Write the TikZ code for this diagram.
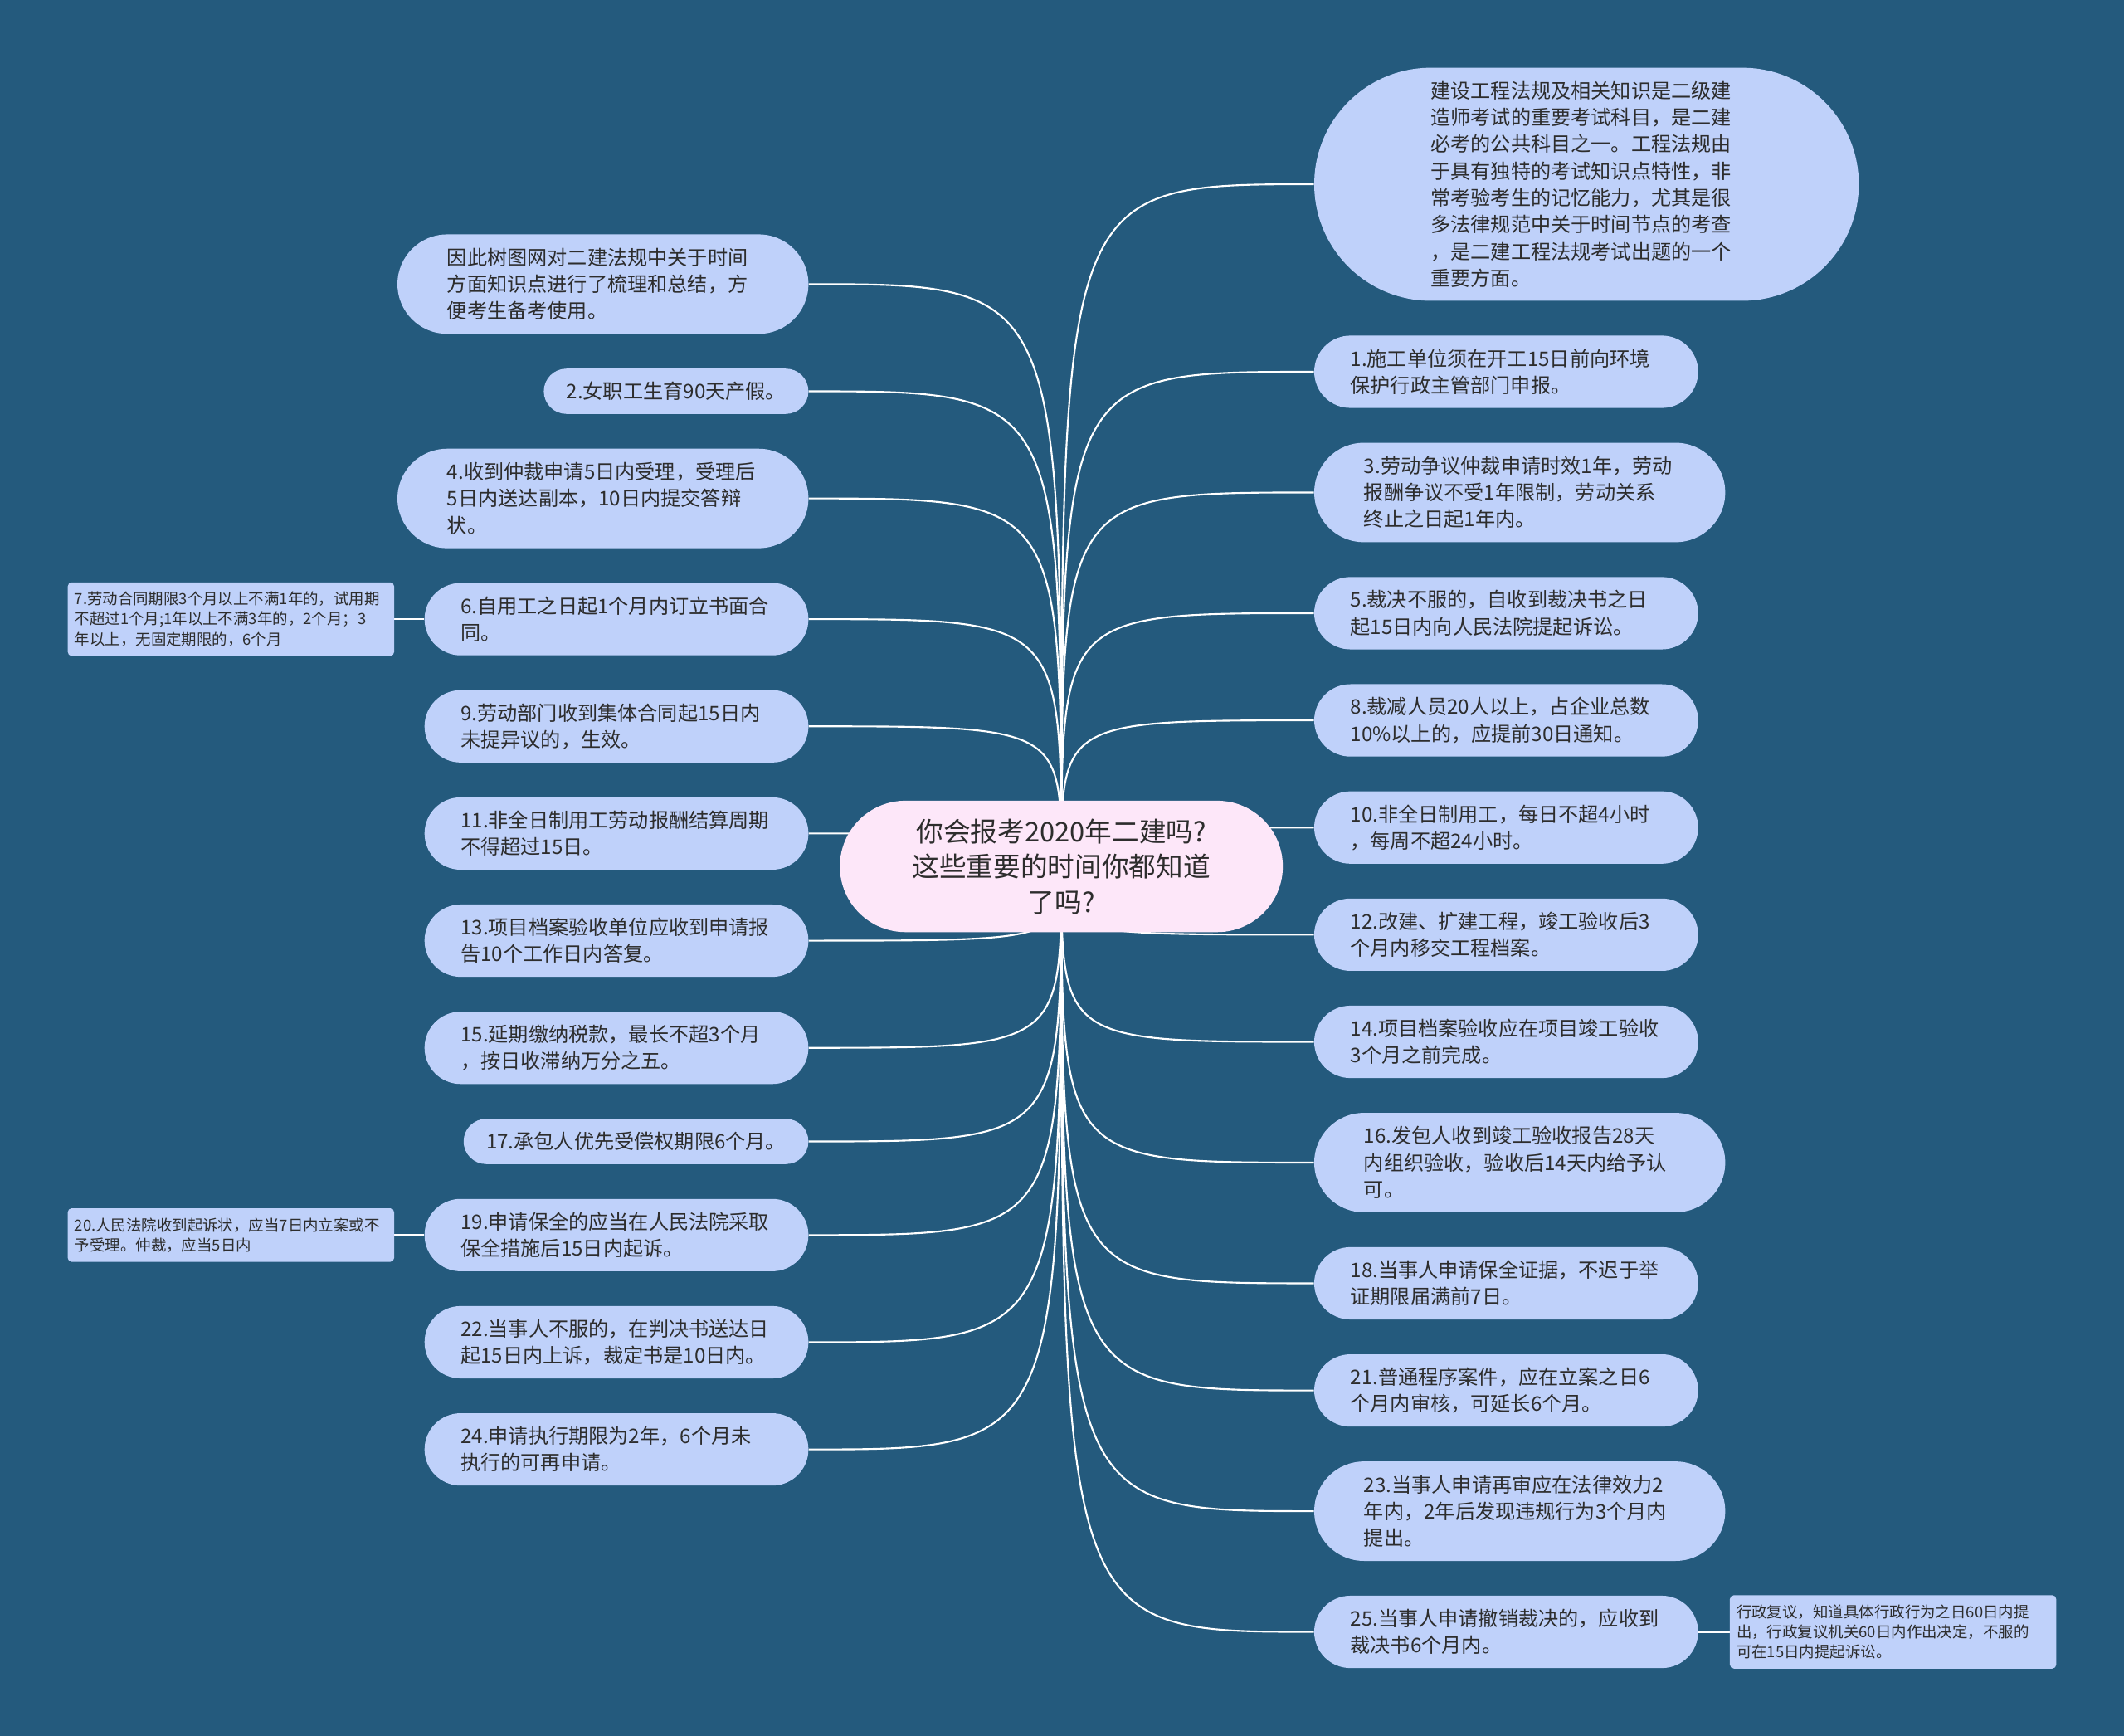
\documentclass[tikz,border=0pt]{standalone}
\usepackage{fontspec}
\usepackage{tikz}
\usetikzlibrary{positioning}
\newfontfamily\cjk{Noto Sans CJK SC}
\definecolor{bg}{RGB}{36,90,125}
\definecolor{pill}{RGB}{191,209,250}
\definecolor{rootfill}{RGB}{253,231,249}
\definecolor{ink}{RGB}{45,45,45}
\pgfdeclarelayer{back}
\pgfsetlayers{back,main}

\begin{document}
\begin{tikzpicture}[
  node distance=25.3pt,
  root/.style      = {rectangle, fill=rootfill, text=ink, rounded corners=48.5pt,
                      inner xsep=48.5pt, inner ysep=0pt, minimum height=97pt,
                      text width=230pt, align=center, font=\cjk\fontsize{20pt}{26pt}\selectfont},
  topic/.style     = {rectangle, fill=pill, text=ink, rounded corners=#1,
                      inner xsep=#1, inner ysep=0pt, minimum height=2*#1,
                      align=left, font=\cjk\fontsize{14.8pt}{19.8pt}\selectfont},
  oneline/.style   = {topic=16.7pt},
  twoline/.style   = {topic=26.7pt, text width=230pt},
  threeline/.style = {topic=36.7pt, text width=230pt},
  leaf/.style      = {rectangle, fill=pill, text=ink, rounded corners=3pt,
                      inner xsep=5pt, inner ysep=7pt, text width=231pt, align=left,
                      font=\cjk\fontsize{11.3pt}{14.8pt}\selectfont},
  con/.style       = {white, line width=1.3pt}
]
\begin{pgfonlayer}{back}
\fill[bg] (0,0) rectangle (1568pt,-1281.3pt);
\end{pgfonlayer}

\node[root] (root) at (783.5pt,-639.5pt) {你会报考2020年二建吗?\\这些重要的时间你都知道\\了吗?};

% right side
\node[topic=86pt, text width=230pt, anchor=west] (intro) at (970pt,-136pt) {建设工程法规及相关知识是二级建\\造师考试的重要考试科目，是二建\\必考的公共科目之一。工程法规由\\于具有独特的考试知识点特性，非\\常考验考生的记忆能力，尤其是很\\多法律规范中关于时间节点的考查\\，是二建工程法规考试出题的一个\\重要方面。};
\node[twoline,   below=of intro.south west, anchor=north west] (t1)  {1.施工单位须在开工15日前向环境\\保护行政主管部门申报。};
\node[threeline, below=of t1.south west,    anchor=north west] (t3)  {3.劳动争议仲裁申请时效1年，劳动\\报酬争议不受1年限制，劳动关系\\终止之日起1年内。};
\node[twoline,   below=of t3.south west,    anchor=north west] (t5)  {5.裁决不服的，自收到裁决书之日\\起15日内向人民法院提起诉讼。};
\node[twoline,   below=of t5.south west,    anchor=north west] (t8)  {8.裁减人员20人以上，占企业总数\\10\%以上的，应提前30日通知。};
\node[twoline,   below=of t8.south west,    anchor=north west] (t10) {10.非全日制用工，每日不超4小时\\，每周不超24小时。};
\node[twoline,   below=of t10.south west,   anchor=north west] (t12) {12.改建、扩建工程，竣工验收后3\\个月内移交工程档案。};
\node[twoline,   below=of t12.south west,   anchor=north west] (t14) {14.项目档案验收应在项目竣工验收\\3个月之前完成。};
\node[threeline, below=of t14.south west,   anchor=north west] (t16) {16.发包人收到竣工验收报告28天\\内组织验收，验收后14天内给予认\\可。};
\node[twoline,   below=of t16.south west,   anchor=north west] (t18) {18.当事人申请保全证据，不迟于举\\证期限届满前7日。};
\node[twoline,   below=of t18.south west,   anchor=north west] (t21) {21.普通程序案件，应在立案之日6\\个月内审核，可延长6个月。};
\node[threeline, below=of t21.south west,   anchor=north west] (t23) {23.当事人申请再审应在法律效力2\\年内，2年后发现违规行为3个月内\\提出。};
\node[twoline,   below=of t23.south west,   anchor=north west] (t25) {25.当事人申请撤销裁决的，应收到\\裁决书6个月内。};
\node[leaf, right=23pt of t25] (appeal) {行政复议，知道具体行政行为之日60日内提\\出，行政复议机关60日内作出决定，不服的\\可在15日内提起诉讼。};

% left side
\node[threeline, anchor=east] (note) at (597pt,-209.7pt) {因此树图网对二建法规中关于时间\\方面知识点进行了梳理和总结，方\\便考生备考使用。};
\node[oneline,   below=of note.south east, anchor=north east] (t2)  {2.女职工生育90天产假。};
\node[threeline, below=of t2.south east,   anchor=north east] (t4)  {4.收到仲裁申请5日内受理，受理后\\5日内送达副本，10日内提交答辩\\状。};
\node[twoline,   below=of t4.south east,   anchor=north east] (t6)  {6.自用工之日起1个月内订立书面合\\同。};
\node[twoline,   below=of t6.south east,   anchor=north east] (t9)  {9.劳动部门收到集体合同起15日内\\未提异议的，生效。};
\node[twoline,   below=of t9.south east,   anchor=north east] (t11) {11.非全日制用工劳动报酬结算周期\\不得超过15日。};
\node[twoline,   below=of t11.south east,  anchor=north east] (t13) {13.项目档案验收单位应收到申请报\\告10个工作日内答复。};
\node[twoline,   below=of t13.south east,  anchor=north east] (t15) {15.延期缴纳税款，最长不超3个月\\，按日收滞纳万分之五。};
\node[oneline,   below=of t15.south east,  anchor=north east] (t17) {17.承包人优先受偿权期限6个月。};
\node[twoline,   below=of t17.south east,  anchor=north east] (t19) {19.申请保全的应当在人民法院采取\\保全措施后15日内起诉。};
\node[twoline,   below=of t19.south east,  anchor=north east] (t22) {22.当事人不服的，在判决书送达日\\起15日内上诉，裁定书是10日内。};
\node[twoline,   below=of t22.south east,  anchor=north east] (t24) {24.申请执行期限为2年，6个月未\\执行的可再申请。};
\node[leaf, left=22pt of t6]  (t7)  {7.劳动合同期限3个月以上不满1年的，试用期\\不超过1个月;1年以上不满3年的，2个月；3\\年以上，无固定期限的，6个月};
\node[leaf, left=22pt of t19] (t20) {20.人民法院收到起诉状，应当7日内立案或不\\予受理。仲裁，应当5日内};

\begin{pgfonlayer}{back}
\draw[con](root.center) .. controls (root.center |- intro.west) .. (intro.west);
\draw[con](root.center) .. controls (root.center |- t1.west) .. (t1.west);
\draw[con](root.center) .. controls (root.center |- t3.west) .. (t3.west);
\draw[con](root.center) .. controls (root.center |- t5.west) .. (t5.west);
\draw[con](root.center) .. controls (root.center |- t8.west) .. (t8.west);
\draw[con](root.center) .. controls (root.center |- t10.west) .. (t10.west);
\draw[con](root.center) .. controls (root.center |- t12.west) .. (t12.west);
\draw[con](root.center) .. controls (root.center |- t14.west) .. (t14.west);
\draw[con](root.center) .. controls (root.center |- t16.west) .. (t16.west);
\draw[con](root.center) .. controls (root.center |- t18.west) .. (t18.west);
\draw[con](root.center) .. controls (root.center |- t21.west) .. (t21.west);
\draw[con](root.center) .. controls (root.center |- t23.west) .. (t23.west);
\draw[con](root.center) .. controls (root.center |- t25.west) .. (t25.west);
\draw[con](root.center) .. controls (root.center |- note.east) .. (note.east);
\draw[con](root.center) .. controls (root.center |- t2.east) .. (t2.east);
\draw[con](root.center) .. controls (root.center |- t4.east) .. (t4.east);
\draw[con](root.center) .. controls (root.center |- t6.east) .. (t6.east);
\draw[con](root.center) .. controls (root.center |- t9.east) .. (t9.east);
\draw[con](root.center) .. controls (root.center |- t11.east) .. (t11.east);
\draw[con](root.center) .. controls (root.center |- t13.east) .. (t13.east);
\draw[con](root.center) .. controls (root.center |- t15.east) .. (t15.east);
\draw[con](root.center) .. controls (root.center |- t17.east) .. (t17.east);
\draw[con](root.center) .. controls (root.center |- t19.east) .. (t19.east);
\draw[con](root.center) .. controls (root.center |- t22.east) .. (t22.east);
\draw[con](root.center) .. controls (root.center |- t24.east) .. (t24.east);
\draw[con](t25)--(appeal); \draw[con](t6)--(t7); \draw[con](t19)--(t20);
\end{pgfonlayer}
\end{tikzpicture}
\end{document}
